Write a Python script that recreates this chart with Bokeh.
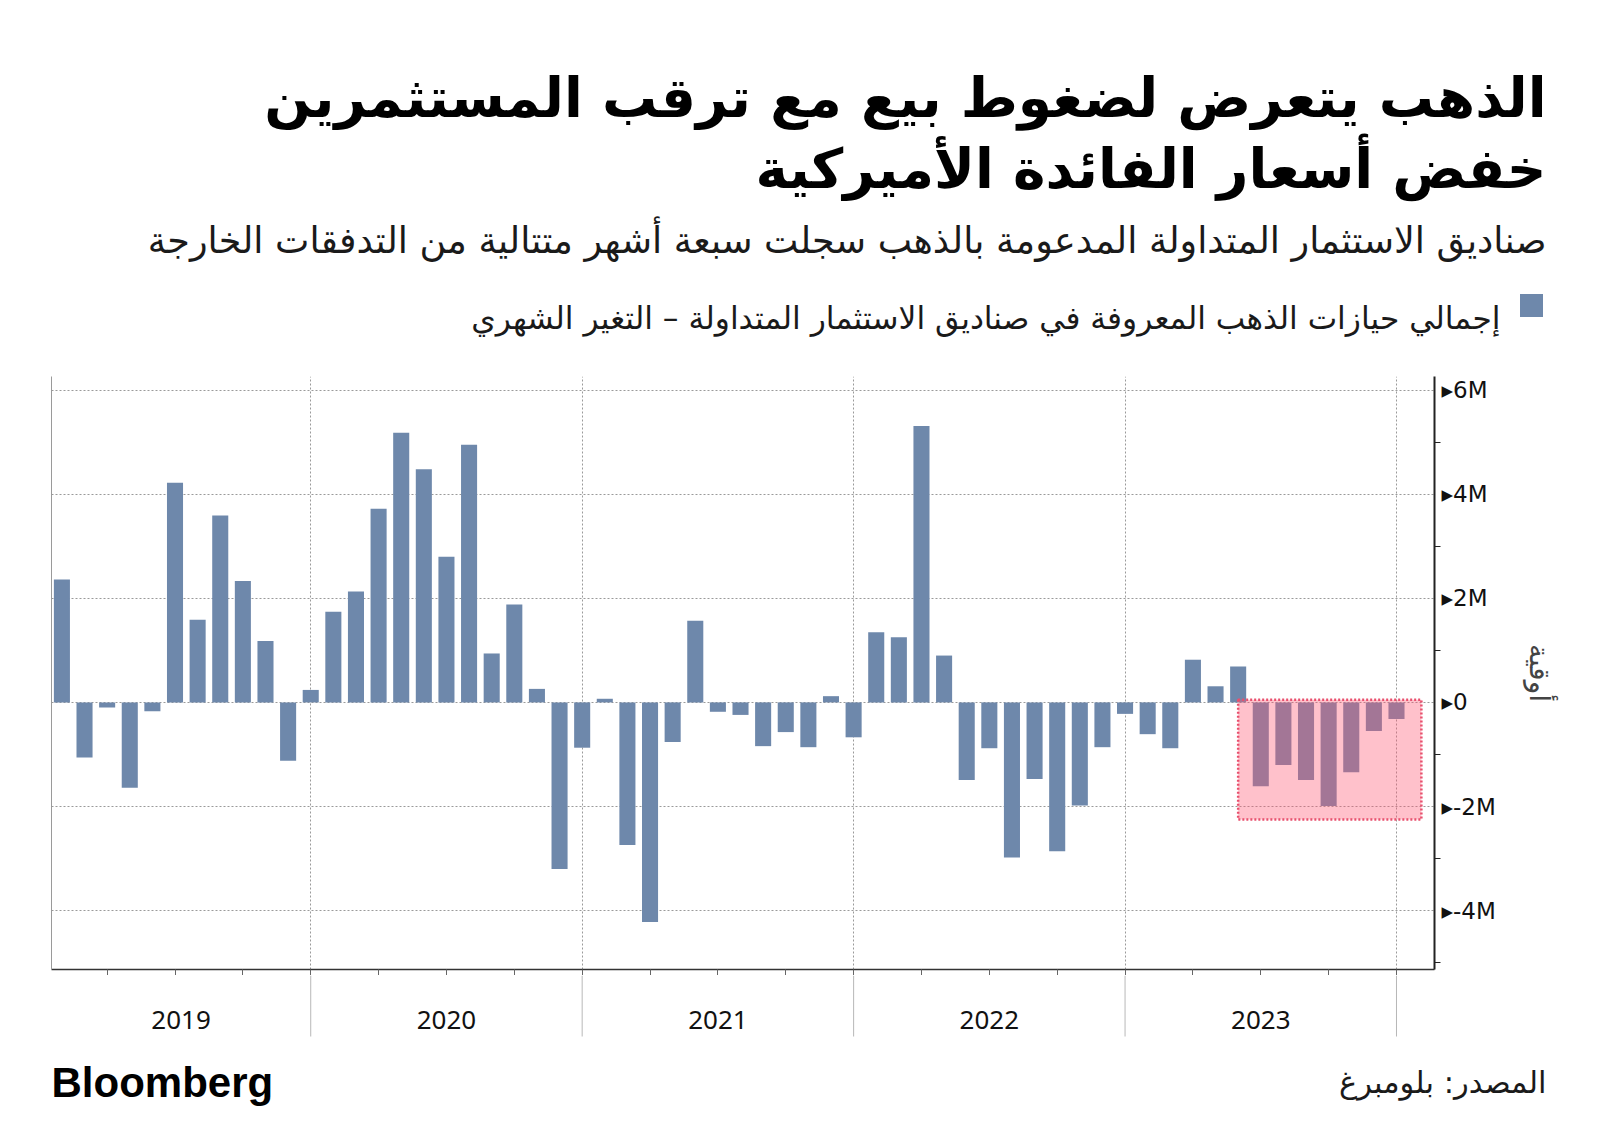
from bokeh.plotting import figure
from bokeh.layouts import column
from bokeh.models import LinearAxis, FixedTicker, Range1d, BoxAnnotation
from bokeh.core.properties import value
from bokeh.embed import file_html
from bokeh.resources import INLINE

# ---------------- data ----------------
title_lines = ["الذهب يتعرض لضغوط بيع مع ترقب المستثمرين", "خفض أسعار الفائدة الأميركية"]
subtitle = "صناديق الاستثمار المتداولة المدعومة بالذهب سجلت سبعة أشهر متتالية من التدفقات الخارجة"
legend_label = "إجمالي حيازات الذهب المعروفة في صناديق الاستثمار المتداولة – التغير الشهري"
source_text = "المصدر: بلومبرغ"
y_axis_title = "أوقية"
brand = "Bloomberg"

years = ["2019", "2020", "2021", "2022", "2023"]
# monthly change in total known gold ETF holdings, millions of ounces (Jan..Dec)
change_2019 = [2.36, -1.06, -0.10, -1.64, -0.17, 4.22, 1.59, 3.59, 2.33, 1.18, -1.12, 0.24]
change_2020 = [1.74, 2.13, 3.72, 5.18, 4.48, 2.80, 4.95, 0.94, 1.88, 0.26, -3.20, -0.87]
change_2021 = [0.07, -2.74, -4.22, -0.76, 1.57, -0.18, -0.24, -0.84, -0.57, -0.86, 0.12, -0.67]
change_2022 = [1.35, 1.25, 5.31, 0.90, -1.49, -0.88, -2.98, -1.47, -2.86, -1.98, -0.86, -0.22]
change_2023 = [-0.61, -0.88, 0.82, 0.31, 0.69, -1.61, -1.20, -1.49, -1.99, -1.34, -0.55, -0.32]

y_ticks = [-4_000_000, -2_000_000, 0, 2_000_000, 4_000_000, 6_000_000]
y_tick_labels = ["-4M", "-2M", "0", "2M", "4M", "6M"]
y_minor_ticks = [-5_000_000, -3_000_000, -1_000_000, 1_000_000, 3_000_000, 5_000_000]

highlight_first_month = "2023-06"   # seven consecutive months of outflows
highlight_bottom = -2.25e6
highlight_top = 0.05e6

# ---------------- derived ----------------
monthly = change_2019 + change_2020 + change_2021 + change_2022 + change_2023
month_names = [f"{y}-{m:02d}" for y in years for m in range(1, 13)]
values = [v * 1e6 for v in monthly]
x_pos = [i + 1 for i in range(len(values))]          # bar drawn at month end
hl_left = month_names.index(highlight_first_month)
hl_right = len(values) + 1.1
year_bounds = [12 * (i + 1) for i in range(len(years))]
quarter_ticks = list(range(3, 12 * len(years) + 1, 3))

# ---------------- layout (page pixels) ----------------
W = 1592
L, R, T, B = 51, 1434, 376, 969
HEAD_H = 372
MAIN_TOP = T - HEAD_H
MAIN_BOTTOM = 6
MAIN_H = MAIN_TOP + (B - T) + MAIN_BOTTOM
FOOT_TOP = HEAD_H + MAIN_H
FOOT_H = 1140 - FOOT_TOP
X0, X1 = 0.54, 61.68
Y0, Y1 = -5.13e6, 6.26e6

def dx(px):
    return X0 + (px - L) * (X1 - X0) / (R - L)

BAR = "#6e88ab"
TXT = "#1a1a1a"
AR_FONT = value("DejaVu Sans")

# ---------------- header ----------------
head = figure(width=W, height=HEAD_H, x_range=Range1d(0, W), y_range=Range1d(HEAD_H, 0),
              x_axis_location=None, y_axis_location=None, min_border=0, frame_align=False,
              output_backend="svg", toolbar_location=None)
head.outline_line_color = None
head.grid.grid_line_color = None
head.text(x=[1546, 1546], y=[97, 168], text=title_lines, text_font=AR_FONT,
          text_font_size="55px", text_font_style="bold", text_align="right",
          text_baseline="alphabetic", text_color="#000000")
head.text(x=[1546], y=[240], text=[subtitle], text_font=AR_FONT, text_font_size="36.5px",
          text_align="right", text_baseline="alphabetic", text_color=TXT)
head.rect(x=[1531], y=[305], width=23, height=23, fill_color=BAR, line_color=None)
head.text(x=[1500], y=[317], text=[legend_label], text_font=AR_FONT, text_font_size="31.3px",
          text_align="right", text_baseline="alphabetic", text_color=TXT)

# ---------------- main chart ----------------
p = figure(width=W, height=MAIN_H, x_range=Range1d(X0, X1), y_range=Range1d(Y0, Y1),
           y_axis_location="right", output_backend="svg", toolbar_location=None,
           min_border_left=L, min_border_right=W - R, min_border_top=MAIN_TOP,
           min_border_bottom=MAIN_BOTTOM, frame_align=False)
p.outline_line_color = None

p.vbar(x=x_pos, top=values, width=0.71, fill_color=BAR, line_color=None)

p.add_layout(BoxAnnotation(left=hl_left, right=hl_right, bottom=highlight_bottom, top=highlight_top,
                           fill_color="#ff5873", fill_alpha=0.37,
                           line_color="#e8506e", line_alpha=1.0, line_width=2.5, line_dash="2 2"))

p.xaxis.ticker = FixedTicker(ticks=[], minor_ticks=quarter_ticks)
p.xaxis.major_label_standoff = 0
p.xaxis.major_tick_out = 0
p.xaxis.major_tick_in = 0
p.xaxis.minor_tick_out = MAIN_BOTTOM
p.xaxis.minor_tick_in = 0
p.xaxis.minor_tick_line_color = "#666666"
p.xaxis.axis_line_color = "#333333"
p.xaxis.axis_line_width = 1.5
p.xgrid.ticker = FixedTicker(ticks=year_bounds)

p.yaxis.ticker = FixedTicker(ticks=y_ticks, minor_ticks=y_minor_ticks)
p.yaxis.major_label_overrides = {t: "▸" + s for t, s in zip(y_ticks, y_tick_labels)}
p.yaxis.major_label_text_font = "DejaVu Sans"
p.yaxis.major_label_text_font_size = "23px"
p.yaxis.major_label_text_color = "#111111"
p.yaxis.major_label_standoff = 1
p.yaxis.major_tick_line_color = None
p.yaxis.major_tick_out = 0
p.yaxis.major_tick_in = 0
p.yaxis.minor_tick_out = 6
p.yaxis.minor_tick_in = 0
p.yaxis.minor_tick_line_color = "#222222"
p.yaxis.axis_line_color = "#222222"
p.yaxis.axis_line_width = 2
p.yaxis.axis_label = y_axis_title
p.yaxis.axis_label_text_font = "DejaVu Sans"
p.yaxis.axis_label_text_font_style = "normal"
p.yaxis.axis_label_text_font_size = "28px"
p.yaxis.axis_label_standoff = 24

p.add_layout(LinearAxis(ticker=FixedTicker(ticks=[]), axis_line_color="#9a9a9a", axis_line_width=1,
                        major_tick_line_color=None, minor_tick_line_color=None), "left")

for g in (p.xgrid, p.ygrid):
    g.grid_line_color = "#9a9a9a"
    g.grid_line_dash = "2 2"
    g.grid_line_width = 1

# ---------------- footer ----------------
foot = figure(width=W, height=FOOT_H, x_range=Range1d(dx(0), dx(W)), y_range=Range1d(FOOT_H, 0),
              x_axis_location=None, y_axis_location=None, min_border=0, frame_align=False,
              output_backend="svg", toolbar_location=None)
foot.extra_x_ranges = {"px": Range1d(0, W)}
foot.outline_line_color = None
foot.grid.grid_line_color = None
foot.segment(x0=year_bounds, y0=[0] * len(year_bounds), x1=year_bounds,
             y1=[1036 - FOOT_TOP] * len(year_bounds), line_color="#b8b8b8", line_width=1)
year_centers = [(max(12 * i, X0) + min(12 * (i + 1), X1)) / 2 for i in range(len(years))]
foot.text(x=year_centers, y=[1019 - FOOT_TOP] * len(years), text=years,
          text_font=value("Noto Sans"), text_font_size="26px", text_align="center",
          text_baseline="middle", text_color="#111111")
foot.text(x=[51], y=[1082 - FOOT_TOP], text=[brand], x_range_name="px",
          text_font=value("Liberation Sans"), text_font_size="42px", text_font_style="bold",
          text_align="left", text_baseline="alphabetic", text_color="#000000")
foot.text(x=[1546], y=[1082 - FOOT_TOP], text=[source_text], x_range_name="px",
          text_font=AR_FONT, text_font_size="30.5px", text_align="right",
          text_baseline="alphabetic", text_color=TXT)

layout = column(head, p, foot, spacing=0)
open("out.html", "w", encoding="utf-8").write(file_html(layout, INLINE))
